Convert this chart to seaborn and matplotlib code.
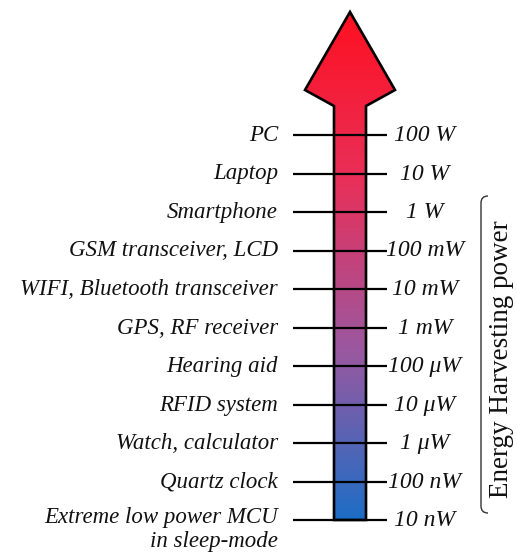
import matplotlib.pyplot as plt
import numpy as np
import seaborn as sns
from matplotlib.path import Path
from matplotlib.patches import PathPatch, Polygon

# Devices (bottom to top) and their typical power, log10(W)
devices = [
    "Extreme low power MCU\nin sleep-mode",
    "Quartz clock",
    "Watch, calculator",
    "RFID system",
    "Hearing aid",
    "GPS, RF receiver",
    "WIFI, Bluetooth transceiver",
    "GSM transceiver, LCD",
    "Smartphone",
    "Laptop",
    "PC",
]
power_labels = ["10 nW", "100 nW", "1 μW", "10 μW", "100 μW", "1 mW",
                "10 mW", "100 mW", "1 W", "10 W", "100 W"]
log_power = [-8, -7, -6, -5, -4, -3, -2, -1, 0, 1, 2]
harvest_range = [-8, 0]
bracket_title = "Energy Harvesting power"

sns.set_theme(style="white")
plt.rcParams["font.family"] = ["Liberation Serif", "DejaVu Serif"]

px_per_dec = 38.5
top_lev = 2 + 135 / px_per_dec
bot_lev = -8 - 38 / px_per_dec

fig = plt.figure(figsize=(5.17, 5.58), dpi=100)
ax = fig.add_axes([0, 0, 1, 1])
ax.set_xlim(0, 517)
ax.set_ylim(bot_lev, top_lev)
ax.axis("off")

# arrow outline
lo = min(log_power)
tip = 2 + (135 - 12) / px_per_dec
head_base = 2 + (135 - 90) / px_per_dec
barb = 2 + (135 - 106) / px_per_dec
arrow_xy = [(334, lo), (334, barb), (305, head_base), (350, tip),
            (395, head_base), (366, barb), (366, lo)]

cmap = sns.blend_palette(["#1d6ec6", "#9a58a0", "#e8305a", "#ff1020"], as_cmap=True)
grad = np.linspace(0, 1, 256).reshape(-1, 1)
img = ax.imshow(grad, cmap=cmap, origin="lower", aspect="auto",
                extent=[300, 400, lo, tip], zorder=1)
arrow = Polygon(arrow_xy, closed=True, facecolor="none", edgecolor="black",
                linewidth=1.9, joinstyle="miter", zorder=3)
ax.add_patch(arrow)
img.set_clip_path(arrow)

# tick lines
ax.hlines(log_power, 293, 387, color="black", linewidth=1.6, zorder=2)

for lev, dev, pw in zip(log_power, devices, power_labels):
    if "\n" in dev:
        ax.annotate(dev, (278, lev), xytext=(0, 13), textcoords="offset pixels",
                    ha="right", va="top", style="italic", fontsize=16.5,
                    multialignment="right", linespacing=1.2, color="#111111")
    else:
        ax.annotate(dev, (278, lev), xytext=(0, -6), textcoords="offset pixels",
                    ha="right", va="baseline", style="italic", fontsize=16.5,
                    color="#111111")
    ax.annotate(pw, (425, lev), xytext=(0, -6), textcoords="offset pixels",
                ha="center", va="baseline", style="italic", fontsize=17,
                color="#111111")

# bracket for energy harvesting range
b_top = harvest_range[1] + 16 / px_per_dec
b_bot = harvest_range[0] + 7 / px_per_dec
r = 7 / px_per_dec
verts = [(488, b_top), (481, b_top), (481, b_top - r), (481, b_bot + r),
         (481, b_bot), (488, b_bot)]
codes = [Path.MOVETO, Path.CURVE3, Path.CURVE3, Path.LINETO, Path.CURVE3, Path.CURVE3]
ax.add_patch(PathPatch(Path(verts, codes), facecolor="none", edgecolor="#333333",
                       linewidth=1.0))
ax.text(502, (b_top + b_bot) / 2 - 5 / px_per_dec, bracket_title, rotation=90,
        ha="center", va="center", fontsize=19.5, color="#111111")

fig.savefig("out.png", dpi=100)
